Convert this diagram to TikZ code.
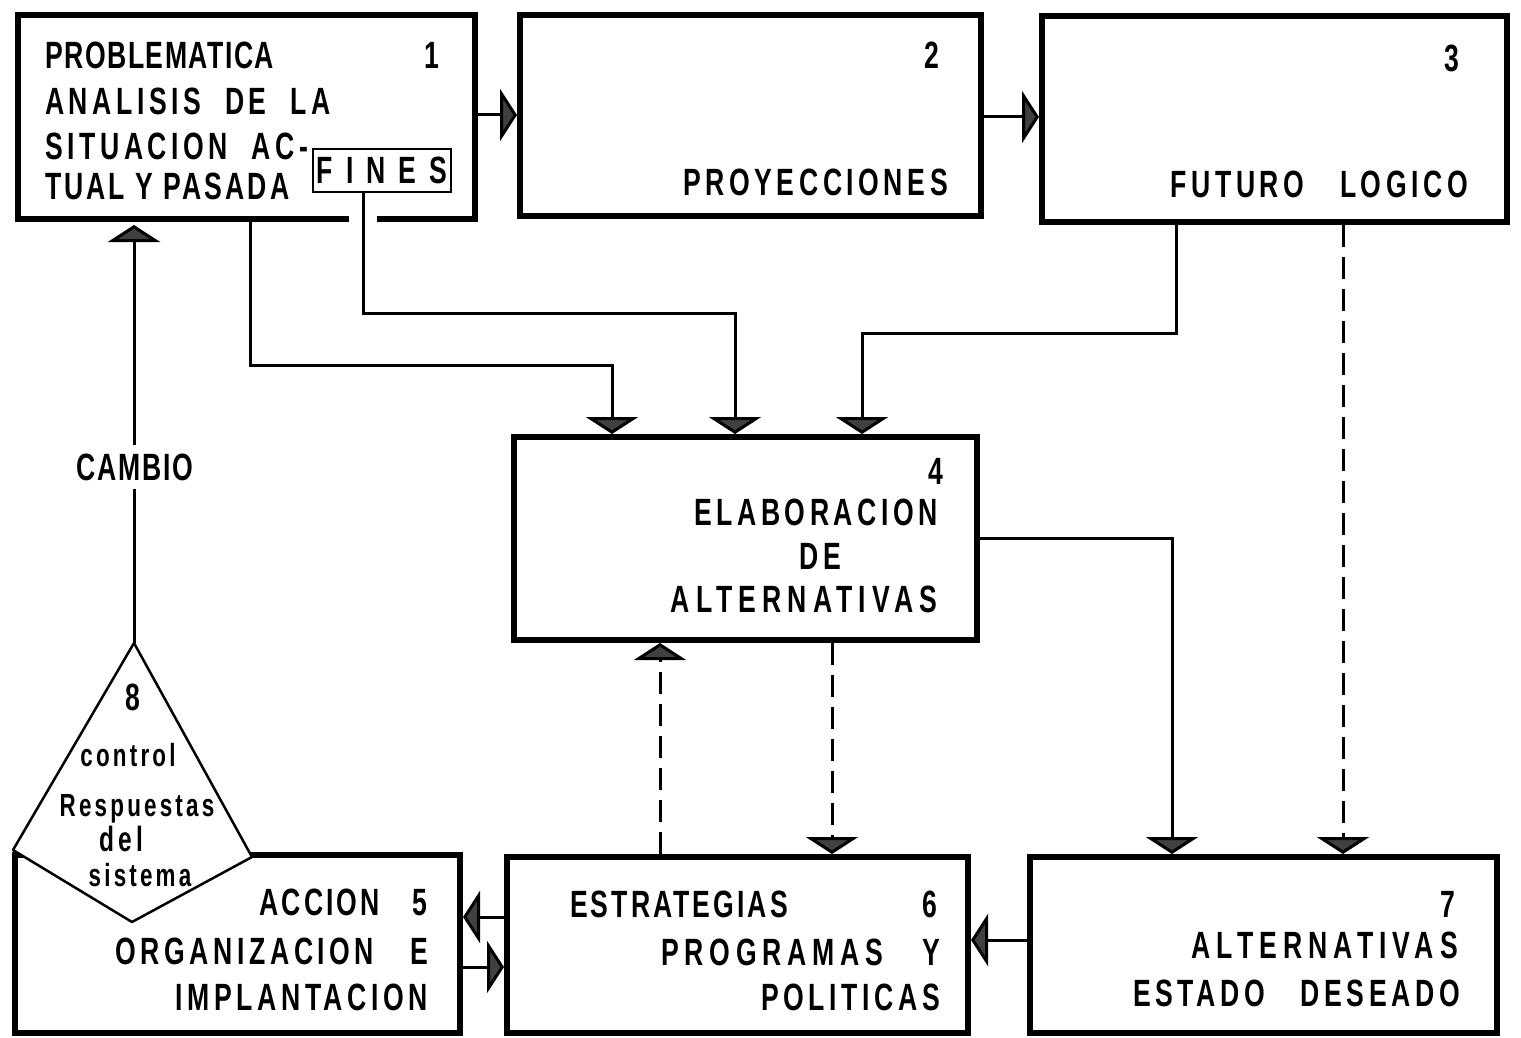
\documentclass[tikz,border=0pt]{standalone}
\usepackage{fontspec}
\setmainfont{Liberation Sans}[FakeStretch=0.7,LetterSpace=12]
\usetikzlibrary{arrows.meta}
\tikzset{
  box/.style={draw,line width=6pt,inner sep=0pt},
  conn/.style={line width=3pt,-{Triangle[width=52pt,length=17pt,fill=black!75]}},
  dconn/.style={conn,dash pattern=on 22pt off 10pt},
  txt/.style={inner sep=0pt,font=\bfseries\fontsize{38}{44}\selectfont},
  sml/.style={inner sep=0pt,font=\bfseries\fontsize{32}{34}\selectfont\addfontfeature{LetterSpace=10}},
}
\begin{document}
\begin{tikzpicture}[x=1pt,y=-1pt]
\useasboundingbox (0,0) rectangle (1521,1038);
\node [box,minimum width=457pt,minimum height=204pt](b1) at (246.5,117) {};
\node [box,minimum width=461pt,minimum height=201pt](b2) at (750.5,115.5) {};
\node [box,minimum width=465pt,minimum height=206pt](b3) at (1274.5,119) {};
\node [box,minimum width=463pt,minimum height=203pt](b4) at (745.5,538.5) {};
\node [box,minimum width=445pt,minimum height=178pt](b5) at (237.5,944) {};
\node [box,minimum width=461pt,minimum height=176pt](b6) at (737.5,945) {};
\node [box,minimum width=467pt,minimum height=176pt](b7) at (1263.5,945) {};
\fill [white](349,212) rectangle (377,226);
\node [txt,draw,line width=2.5pt,minimum width=138pt,minimum height=43pt](fines) at (382,170.5) {\addfontfeature{LetterSpace=34}FINES};
% texts
\node [txt,anchor=base west](t1a) at (45,69) {\addfontfeature{LetterSpace=4}PROBLEMATICA};
\node [txt,anchor=base west](t1b) at (45,115) {ANALISIS\ \ DE\ \ LA};
\node [txt,anchor=base west](t1c) at (45,160) {SITUACION\ \ AC-};
\node [txt,anchor=base west](t1d) at (45,200) {\addfontfeature{LetterSpace=8}TUAL\ Y\ PASADA};
\node [txt,anchor=base](n1) at (432,69) {1};
\node [txt,anchor=base](n2) at (932,69) {2};
\node [txt,anchor=base east](t2) at (948,195) {PROYECCIONES};
\node [txt,anchor=base](n3) at (1452,72) {3};
\node [txt,anchor=base east](t3) at (1468,197) {FUTURO\ \ \ LOGICO};
\node [txt,anchor=base](n4) at (936,484) {4};
\node [txt,anchor=base](t4a) at (816,525) {ELABORACION};
\node [txt,anchor=base](t4b) at (820,569) {DE};
\node [txt,anchor=base](t4c) at (804,612) {\addfontfeature{LetterSpace=16}ALTERNATIVAS};
\node [txt,anchor=base east](t5a) at (380,915) {\addfontfeature{LetterSpace=8}ACCION};
\node [txt,anchor=base](n5) at (420,915) {5};
\node [txt,anchor=base east](t5b) at (428,964) {ORGANIZACION\ \ \ E};
\node [txt,anchor=base east](t5c) at (428,1010) {IMPLANTACION};
\node [txt,anchor=base west](t6a) at (570,917) {\addfontfeature{LetterSpace=8}ESTRATEGIAS};
\node [txt,anchor=base](n6) at (930,917) {6};
\node [txt,anchor=base east](t6b) at (940,965) {\addfontfeature{LetterSpace=15}PROGRAMAS\ \ \ Y};
\node [txt,anchor=base east](t6c) at (940,1010) {POLITICAS};
\node [txt,anchor=base](n7) at (1448,917) {7};
\node [txt,anchor=base east](t7a) at (1458,958) {\addfontfeature{LetterSpace=16}ALTERNATIVAS};
\node [txt,anchor=base east](t7b) at (1460,1006) {ESTADO\ \ \ DESEADO};
% connectors
\draw [conn](b1.east |- 0,115) -- (b2.west |- 0,115);
\draw [conn](b2.east |- 0,117) -- (b3.west |- 0,117);
\draw [conn](250,0 |- b1.south) -- (250,365) -| (b4.north -| 612,0);
\draw [conn](363,0 |- fines.south) -- (363,313) -| (b4.north -| 735,0);
\draw [conn](1176,0 |- b3.south) -- (1176,333) -| (b4.north -| 862,0);
\draw [dconn](1343,0 |- b3.south) -- (b7.north -| 1343,0);
\draw [conn](b4.east |- 0,538) -| (b7.north -| 1172,0);
\draw [dconn](832,0 |- b4.south) -- (b6.north -| 832,0);
\draw [dconn](660,0 |- b6.north) -- (b4.south -| 660,0);
\draw [conn](b7.west |- 0,940) -- (b6.east |- 0,940);
\draw [conn](b6.west |- 0,917) -- (b5.east |- 0,917);
\draw [conn](b5.east |- 0,967) -- (b6.west |- 0,967);
% control
\coordinate (d8t) at (134,643);
\coordinate (d8l) at (13,850);
\coordinate (d8b) at (132,922);
\coordinate (d8r) at (252,857);
\filldraw [fill=white,line width=2.5pt,line join=round](d8t) -- (d8r) -- (d8b) -- (d8l) -- cycle;
\draw [conn,shorten >=3pt](d8t) -- (d8t |- b1.south);
\node [txt,fill=white,inner xsep=2pt,inner ysep=9pt](cambio) at (135,467) {\addfontfeature{LetterSpace=5}CAMBIO};
\node [txt,anchor=base](n8) at (133,710) {8};
\node [sml,anchor=base](t8a) at (128,766) {control};
\node [sml,anchor=base](t8b) at (137,816) {Respuestas};
\node [sml,anchor=base,font=\bfseries\fontsize{35}{36}\selectfont](t8c) at (121,851) {del};
\node [sml,anchor=base](t8d) at (140,886) {sistema};
\end{tikzpicture}
\end{document}
